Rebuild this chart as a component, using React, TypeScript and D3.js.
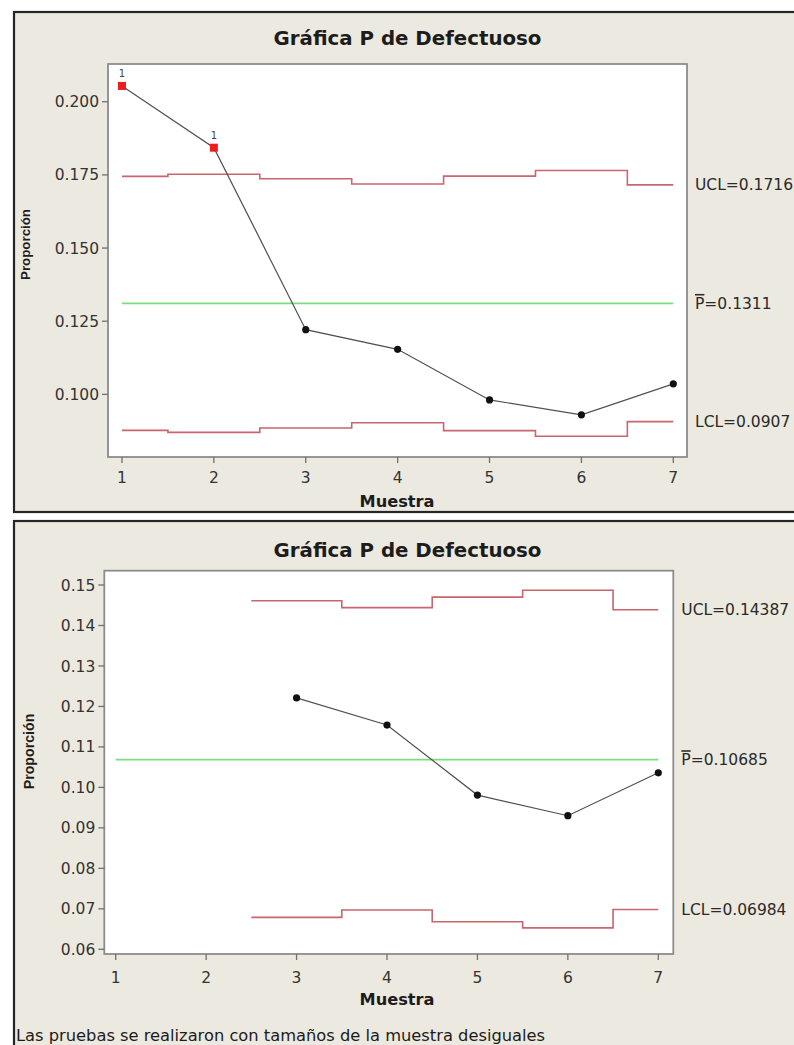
import React from "react";
import * as d3 from "d3";

// ---------- data ----------
const samples = [1, 2, 3, 4, 5, 6, 7];
const proportions = [0.2054, 0.1843, 0.1221, 0.1154, 0.0981, 0.093, 0.1036];
const uclTop = [0.1745, 0.1752, 0.1737, 0.1719, 0.1746, 0.1765, 0.1716];
const lclTop = [0.0877, 0.087, 0.0885, 0.0903, 0.0876, 0.0857, 0.0907];
const centerTop = 0.1311;
const failedTop = [1, 2];
const yTicksTop = [0.1, 0.125, 0.15, 0.175, 0.2];

const samplesBottom = [3, 4, 5, 6, 7];
const proportionsBottom = [0.1221, 0.1154, 0.0981, 0.093, 0.1036];
const uclBottom = [0.1461, 0.1444, 0.147, 0.1487, 0.14387];
const lclBottom = [0.0679, 0.0697, 0.0668, 0.0653, 0.06984];
const centerBottom = 0.10685;
const failedBottom: number[] = [];
const yTicksBottom = [0.06, 0.07, 0.08, 0.09, 0.1, 0.11, 0.12, 0.13, 0.14, 0.15];

const xTicks = [1, 2, 3, 4, 5, 6, 7];
const title = "Gráfica P de Defectuoso";
const xTitle = "Muestra";
const yTitle = "Proporción";
const footer = "Las pruebas se realizaron con tamaños de la muestra desiguales";

const FONT = "'DejaVu Sans', Verdana, sans-serif";
const FONT_NARROW = "'Liberation Sans', Arial, sans-serif";
const BG = "#ECE9E0";

type PanelProps = {
  xs: number[];
  ps: number[];
  ucl: number[];
  lcl: number[];
  center: number;
  failed: number[];
  yTicks: number[];
  yFmt: string;
  uclLabel: string;
  centerLabel: string;
  lclLabel: string;
  xDomain: [number, number];
  yDomain: [number, number];
  box: { top: number; bottom: number };
  plot: { l: number; t: number; r: number; b: number };
  titleY: number;
  xTickY: number;
  xTitleY: number;
  yTitleX: number;
  yTitleY: number;
  yTitleSize: number;
};

function Panel(p: PanelProps) {
  const x = d3.scaleLinear().domain(p.xDomain).range([p.plot.l, p.plot.r]);
  const y = d3.scaleLinear().domain(p.yDomain).range([p.plot.b, p.plot.t]);
  const first = xTicks[0];
  const xMax = p.xs[p.xs.length - 1];
  // limits start half a sample before the first plotted sample, unless it is the first one
  const limStart = p.xs[0] > first ? p.xs[0] - 0.5 : p.xs[0];
  const step = d3
    .line<[number, number]>()
    .x((d) => x(d[0]))
    .y((d) => y(d[1]))
    .curve(d3.curveStep);
  const line = d3
    .line<[number, number]>()
    .x((d) => x(d[0]))
    .y((d) => y(d[1]));
  const pts: [number, number][] = p.xs.map((s, i) => [s, p.ps[i]]);
  const withStart = (vals: number[]): [number, number][] => {
    const arr: [number, number][] = p.xs.map((s, i) => [s, vals[i]]);
    if (limStart < p.xs[0]) arr.unshift([limStart, vals[0]]);
    return arr;
  };
  const fmt = d3.format(p.yFmt);
  const labelX = p.plot.r + 8;
  const lastU = p.ucl[p.ucl.length - 1];
  const lastL = p.lcl[p.lcl.length - 1];
  const midX = 407.5;
  return (
    <g>
      <rect
        x={14}
        y={p.box.top}
        width={800}
        height={p.box.bottom - p.box.top}
        fill={BG}
        stroke="#262626"
        strokeWidth={2.2}
      />
      <text
        x={midX}
        y={p.titleY}
        textAnchor="middle"
        fontFamily={FONT}
        fontWeight="bold"
        fontSize={19.8}
        fill="#1c1c1c"
      >
        {title}
      </text>
      <rect
        x={p.plot.l}
        y={p.plot.t}
        width={p.plot.r - p.plot.l}
        height={p.plot.b - p.plot.t}
        fill="#ffffff"
        stroke="#8c8c8c"
        strokeWidth={1.8}
      />
      {p.yTicks.map((t) => (
        <g key={"y" + t}>
          <line
            x1={p.plot.l - 6}
            x2={p.plot.l}
            y1={y(t)}
            y2={y(t)}
            stroke="#707070"
            strokeWidth={1.3}
          />
          <text
            x={p.plot.l - 9}
            y={y(t)}
            dy="0.36em"
            textAnchor="end"
            fontFamily={FONT}
            fontSize={15.5}
            fill="#333"
          >
            {fmt(t)}
          </text>
        </g>
      ))}
      {xTicks.map((t) => (
        <g key={"x" + t}>
          <line
            x1={x(t)}
            x2={x(t)}
            y1={p.plot.b}
            y2={p.plot.b + 6}
            stroke="#707070"
            strokeWidth={1.3}
          />
          <text
            x={x(t)}
            y={p.xTickY}
            textAnchor="middle"
            fontFamily={FONT}
            fontSize={15.5}
            fill="#333"
          >
            {t}
          </text>
        </g>
      ))}
      <text
        x={397}
        y={p.xTitleY}
        textAnchor="middle"
        fontFamily={FONT}
        fontWeight="bold"
        fontSize={16.2}
        fill="#1c1c1c"
      >
        {xTitle}
      </text>
      <text
        transform={`translate(${p.yTitleX},${p.yTitleY}) rotate(-90)`}
        dy="0.35em"
        textAnchor="middle"
        fontFamily={FONT_NARROW}
        fontWeight="bold"
        fontSize={p.yTitleSize}
        fill="#1c1c1c"
      >
        {yTitle}
      </text>
      <path d={step(withStart(p.ucl)) || ""} fill="none" stroke="#c8656d" strokeWidth={1.6} />
      <path d={step(withStart(p.lcl)) || ""} fill="none" stroke="#c8656d" strokeWidth={1.6} />
      <line
        x1={x(first)}
        x2={x(xMax)}
        y1={y(p.center)}
        y2={y(p.center)}
        stroke="#7ddc7d"
        strokeWidth={1.6}
      />
      <path d={line(pts) || ""} fill="none" stroke="#505050" strokeWidth={1.2} />
      {pts.map((d) =>
        p.failed.includes(d[0]) ? (
          <g key={"pt" + d[0]}>
            <rect x={x(d[0]) - 4} y={y(d[1]) - 4} width={8} height={8} fill="#ee1c1c" />
            <text
              x={x(d[0])}
              y={y(d[1]) - 9}
              textAnchor="middle"
              fontFamily={FONT}
              fontSize={10}
              fill="#444"
            >
              1
            </text>
          </g>
        ) : (
          <circle key={"pt" + d[0]} cx={x(d[0])} cy={y(d[1])} r={3.6} fill="#111" />
        )
      )}
      <text x={labelX} y={y(lastU)} dy="0.36em" fontFamily={FONT} fontSize={15.5} fill="#2a2a2a">
        {p.uclLabel}
      </text>
      <text x={labelX} y={y(p.center)} dy="0.36em" fontFamily={FONT} fontSize={15.5} fill="#2a2a2a">
        <tspan style={{ textDecoration: "overline" }}>P</tspan>
        {p.centerLabel}
      </text>
      <text x={labelX} y={y(lastL)} dy="0.36em" fontFamily={FONT} fontSize={15.5} fill="#2a2a2a">
        {p.lclLabel}
      </text>
    </g>
  );
}

export default function App() {
  return (
    <svg
      width={794}
      height={1045}
      style={{ position: "absolute", left: 0, top: 0, background: "#ffffff" }}
    >
      <Panel
        xs={samples}
        ps={proportions}
        ucl={uclTop}
        lcl={lclTop}
        center={centerTop}
        failed={failedTop}
        yTicks={yTicksTop}
        yFmt=".3f"
        uclLabel={"UCL=" + uclTop[uclTop.length - 1]}
        centerLabel={"=" + centerTop}
        lclLabel={"LCL=" + lclTop[lclTop.length - 1]}
        xDomain={[0.848, 7.149]}
        yDomain={[0.0786, 0.2129]}
        box={{ top: 12, bottom: 512 }}
        plot={{ l: 108, t: 64, r: 687, b: 457 }}
        titleY={45}
        xTickY={483}
        xTitleY={506.5}
        yTitleX={25}
        yTitleY={244.5}
        yTitleSize={13.3}
      />
      <Panel
        xs={samplesBottom}
        ps={proportionsBottom}
        ucl={uclBottom}
        lcl={lclBottom}
        center={centerBottom}
        failed={failedBottom}
        yTicks={yTicksBottom}
        yFmt=".2f"
        uclLabel={"UCL=" + uclBottom[uclBottom.length - 1]}
        centerLabel={"=" + centerBottom}
        lclLabel={"LCL=" + lclBottom[lclBottom.length - 1]}
        xDomain={[0.874, 7.166]}
        yDomain={[0.05884, 0.15353]}
        box={{ top: 521, bottom: 1070 }}
        plot={{ l: 104.3, t: 570.7, r: 673.3, b: 954 }}
        titleY={556.5}
        xTickY={983}
        xTitleY={1005}
        yTitleX={29}
        yTitleY={751.5}
        yTitleSize={14.2}
      />
      <text x={16} y={1041} fontFamily={FONT} fontSize={16.3} fill="#1c1c1c">
        {footer}
      </text>
    </svg>
  );
}
